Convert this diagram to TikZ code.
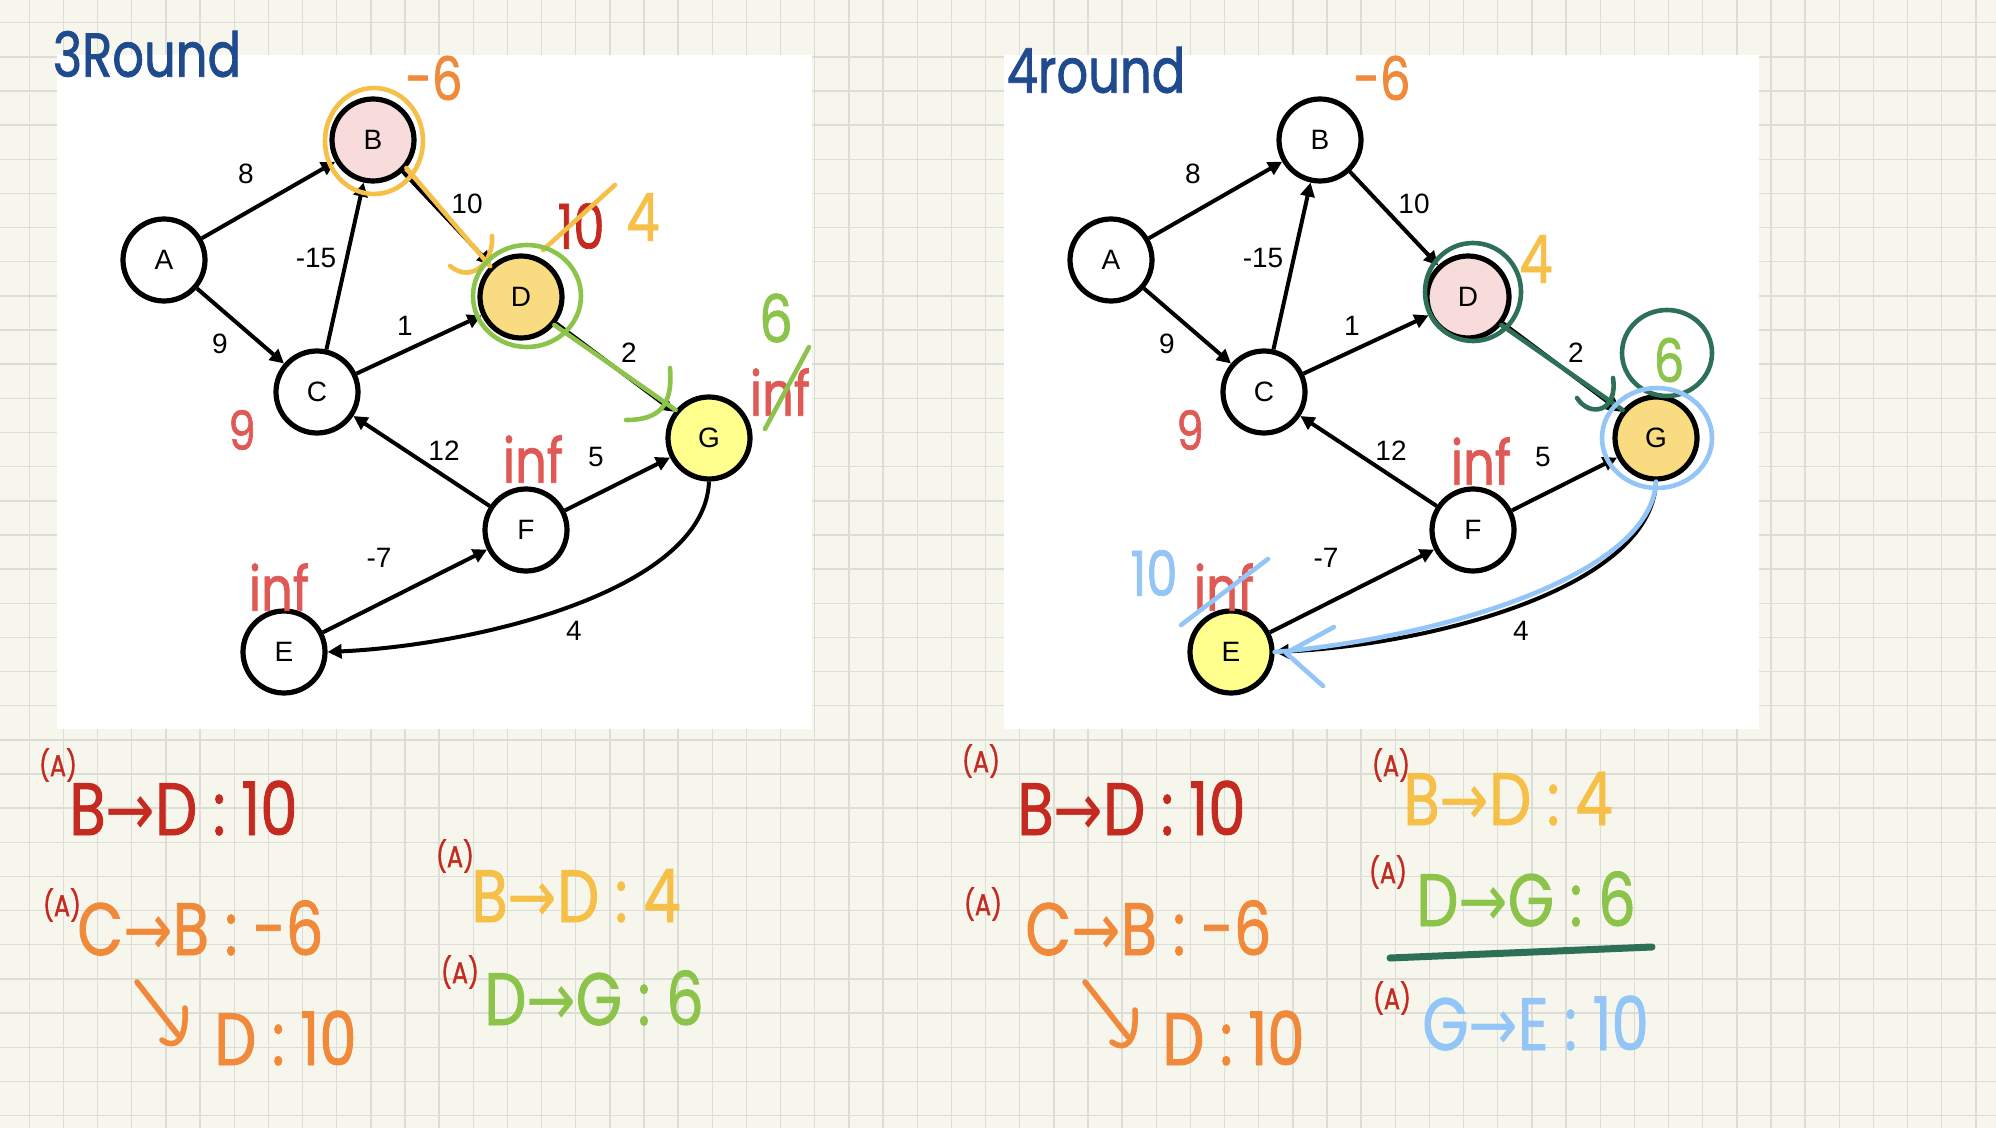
\documentclass[tikz,border=0pt]{standalone}
\usepackage{fontspec}
\setmainfont{Liberation Sans}
\newfontfamily\hand[FakeStretch=0.8, FakeBold=1.2]{Poppins}
\newfontfamily\harr[FakeStretch=0.8]{DejaVu Sans}
\usetikzlibrary{arrows.meta}
\definecolor{paper}{HTML}{F6F6EC}
\definecolor{gridc}{HTML}{DDDDD8}
\definecolor{fpink}{HTML}{F8DCDC}
\definecolor{fgold}{HTML}{F9DC82}
\definecolor{fyel}{HTML}{FFFF8E}
\definecolor{hblue}{HTML}{1F4A8E}
\definecolor{horange}{HTML}{F0893A}
\definecolor{hyellow}{HTML}{F6BF47}
\definecolor{hred}{HTML}{E05A55}
\definecolor{hdred}{HTML}{C42A1F}
\definecolor{hgreen}{HTML}{8CC44B}
\definecolor{hdgreen}{HTML}{2D7056}
\definecolor{hlblue}{HTML}{93C5F7}
\tikzset{
  vtx/.style={circle, draw=black, line width=2.6pt, minimum size=41pt, inner sep=0pt,
    font=\fontsize{14}{15}\selectfont},
  edge/.style={line width=2pt, -{Triangle[length=7pt,width=7pt]}},
  elab/.style={font=\fontsize{14}{15}\selectfont, inner sep=0pt},
  hstroke/.style={line width=2.3pt, line cap=round, line join=round},
  hf/.style={inner sep=0pt, font=\hand\fontsize{#1}{#1}\selectfont},
  bt/.style={hf=37, anchor=base west},
}
\newcommand{\bfgraph}[6]{%
\begin{scope}[shift={(#2,0)}]
  \node[vtx, fill=white] (#1A) at (164,260) {A};
  \node[vtx, fill=#3] (#1B) at (373,140) {B};
  \node[vtx, fill=white] (#1C) at (317,392) {C};
  \node[vtx, fill=#4] (#1D) at (521,297) {D};
  \node[vtx, fill=#5] (#1G) at (709,438) {G};
  \node[vtx, fill=white] (#1F) at (526,530) {F};
  \node[vtx, fill=#6] (#1E) at (284,652) {E};
  \draw[edge] (#1A) -- (#1B);
  \draw[edge] (#1A) -- (#1C);
  \draw[edge] (#1C) -- (#1B);
  \draw[edge] (#1B) -- (#1D);
  \draw[edge] (#1C) -- (#1D);
  \draw[edge] (#1D) -- (#1G);
  \draw[edge] (#1F) -- (#1C);
  \draw[edge] (#1F) -- (#1G);
  \draw[edge] (#1E) -- (#1F);
  \draw[edge] (#1G.south) .. controls +(-4,108) and +(152,-7) .. (#1E.east);
  \node[elab] (#1w8) at (246,174) {8};
  \node[elab] (#1w10) at (467,204) {10};
  \node[elab] (#1w15) at (316,258) {-15};
  \node[elab] (#1w1) at (405,326) {1};
  \node[elab] (#1w9) at (220,344) {9};
  \node[elab] (#1w2) at (629,353) {2};
  \node[elab] (#1w12) at (444,451) {12};
  \node[elab] (#1w5) at (596,457) {5};
  \node[elab] (#1w7) at (379,558) {-7};
  \node[elab] (#1w4) at (574,631) {4};
\end{scope}}
\begin{document}
\begin{tikzpicture}[x=0.5pt,y=-0.5pt]
\useasboundingbox (0,0) rectangle (1996,1128);
\fill[paper] (0,0) rectangle (1996,1128);
\foreach \i in {0,...,57} \draw[gridc, line width=0.7pt] ({29.3+34.15*\i},0) -- ++(0,1128);
\foreach \j in {0,...,32} \draw[gridc, line width=0.7pt] (0,{22.7+34.15*\j}) -- ++(1996,0);
\fill[white] (57,55) rectangle (812,729);
\fill[white] (1004,55) rectangle (1759,729);

\bfgraph{l}{0}{fpink}{fgold}{fyel}{white}
\bfgraph{r}{947}{white}{fpink}{fgold}{fyel}

% ---------- left panel annotations ----------
\node[hf=31, text=hblue] (t3) at (147,54) {3Round};
\node[hf=30, text=horange] (lm6) at (434,78) {-6};
\draw[hstroke, hyellow] (374,141) ellipse [x radius=24.5pt, y radius=26.5pt];
\draw[hstroke, hyellow] (lB.-40) -- (lD.135);
\draw[hstroke, hyellow] (492,236) .. controls (494,262) and (472,284) .. (450,266);
\node[hf=31, text=hdred] (l10) at (581,226) {10};
\draw[hstroke, hyellow] (543,250) -- (615,185);
\node[hf=33, text=hyellow] (l4) at (643,217) {4};
\draw[hstroke, hgreen] (527,296) ellipse [x radius=27pt, y radius=25.5pt];
\draw[hstroke, hgreen] (lD.-40) -- (lG.140);
\draw[hstroke, hgreen] (670,368) .. controls (673,405) and (660,420) .. (626,420);
\node[hf=33, text=hgreen] (l6) at (776,318) {6};
\node[hf=31, text=hred] (linfG) at (780,392) {inf};
\draw[hstroke, hgreen] (765,429) -- (809,347);
\node[hf=27, text=hred] (l9) at (242,430) {9};
\node[hf=31, text=hred] (linfF) at (533,459) {inf};
\node[hf=31, text=hred] (linfE) at (279,587) {inf};

% ---------- right panel annotations ----------
\node[hf=31, text=hblue] (t4) at (1096,70) {4round};
\node[hf=30, text=horange] (rm6) at (1382,78) {-6};
\node[hf=33, text=hyellow] (r4) at (1536,259) {4};
\draw[hstroke, hdgreen] (1473,292) ellipse [x radius=24pt, y radius=24.5pt];
\draw[hstroke, hdgreen] (rD.-40) -- (rG.140);
\draw[hstroke, hdgreen] (1613,378) .. controls (1618,412) and (1590,418) .. (1577,398);
\draw[hstroke, hdgreen] (1667,353) ellipse [x radius=22.5pt, y radius=21.5pt];
\node[hf=30, text=hgreen] (r6) at (1669,360) {6};
\draw[hstroke, hlblue] (1657,438) ellipse [x radius=27.5pt, y radius=25pt];
\draw[hstroke, hlblue] (rG.south) .. controls +(-5,98) and +(150,-12) .. (rE.east);
\draw[hstroke, hlblue] (1334,627) -- (1286,653) -- (1323,686);
\node[hf=31, text=hlblue] (r10) at (1154,573) {10};
\node[hf=31, text=hred] (rinfE) at (1224,587) {inf};
\draw[hstroke, hlblue] (1181,625) -- (1268,559);
\node[hf=27, text=hred] (r9) at (1190,430) {9};
\node[hf=31, text=hred] (rinfF) at (1481,461) {inf};

% ---------- left notes ----------
\node[hf=15, text=hdred] (la1) at (58,765) {(A)};
\node[bt, text=hdred] (lt1) at (69,835) {B{\harr →}D : 10};
\node[hf=15, text=hdred] (la2) at (62,905) {(A)};
\node[bt, text=horange] (lt2) at (77,955) {C{\harr →}B : -6};
\draw[hstroke, horange, line width=2.8pt] (137,982) -- (178,1035);
\draw[hstroke, horange, line width=2.8pt] (185,1008) .. controls (187,1040) and (175,1050) .. (162,1040);
\node[bt, text=horange] (lt3) at (214,1065) {D : 10};
\node[hf=15, text=hdred] (la3) at (455,856) {(A)};
\node[bt, text=hyellow] (lt4) at (471,922) {B{\harr →}D : 4};
\node[hf=15, text=hdred] (la4) at (460,972) {(A)};
\node[bt, text=hgreen] (lt5) at (484,1025) {D{\harr →}G : 6};

% ---------- right notes ----------
\node[hf=15, text=hdred] (ra1) at (981,761) {(A)};
\node[bt, text=hdred] (rt1) at (1017,835) {B{\harr →}D : 10};
\node[hf=15, text=hdred] (ra2) at (983,904) {(A)};
\node[bt, text=horange] (rt2) at (1025,955) {C{\harr →}B : -6};
\draw[hstroke, horange, line width=2.8pt] (1085,982) -- (1128,1037);
\draw[hstroke, horange, line width=2.8pt] (1135,1010) .. controls (1137,1042) and (1125,1052) .. (1112,1042);
\node[bt, text=horange] (rt3) at (1162,1065) {D : 10};
\node[hf=15, text=hdred] (ra3) at (1391,765) {(A)};
\node[bt, text=hyellow] (rt4) at (1403,825) {B{\harr →}D : 4};
\node[hf=15, text=hdred] (ra4) at (1388,872) {(A)};
\node[bt, text=hgreen] (rt5) at (1416,926) {D{\harr →}G : 6};
\draw[hstroke, hdgreen, line width=3.5pt] (1390,958) -- (1652,947);
\node[hf=15, text=hdred] (ra5) at (1392,998) {(A)};
\node[bt, text=hlblue] (rt6) at (1422,1050) {G{\harr →}E : 10};
\end{tikzpicture}
\end{document}
